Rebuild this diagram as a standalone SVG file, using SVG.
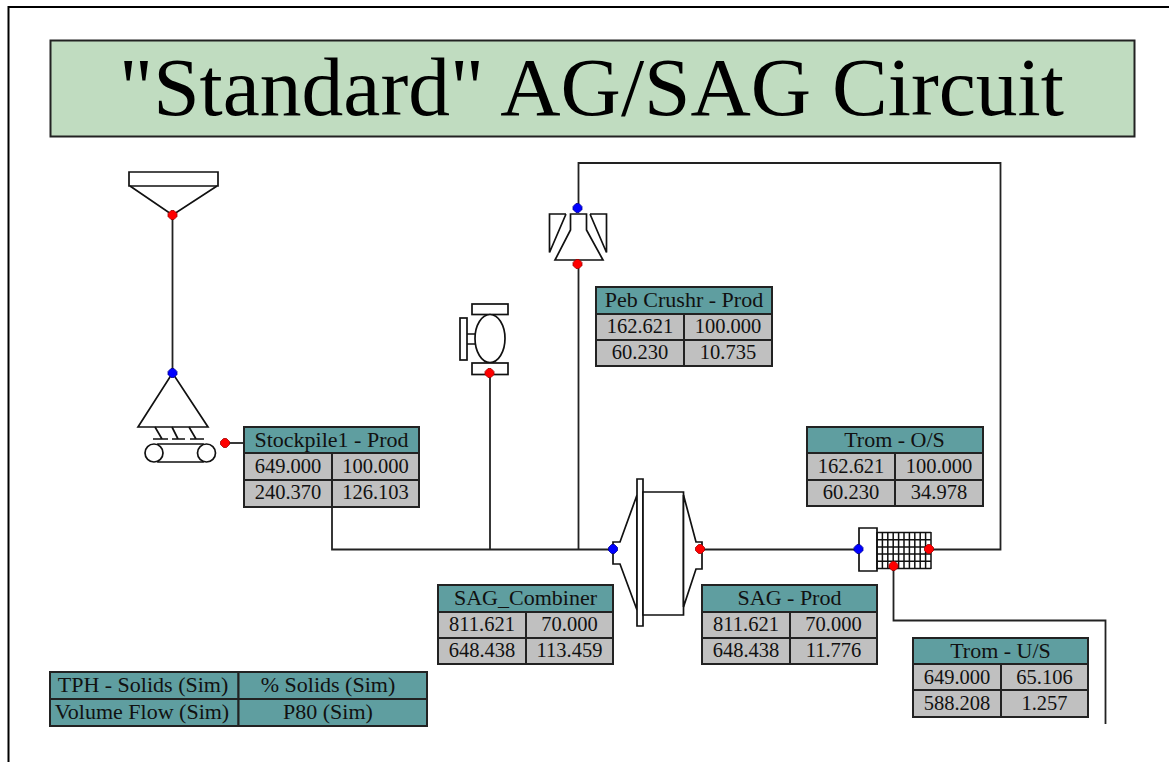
<svg xmlns="http://www.w3.org/2000/svg" width="1169" height="762" viewBox="0 0 1169 762">
<style>
.s{fill:none;stroke:#111;stroke-width:1.7}
.w{fill:#fff;stroke:#111;stroke-width:1.7}
.c{fill:none;stroke:#222;stroke-width:1.8}
.h{fill:#5f9ea0;stroke:#222;stroke-width:2}
.d{fill:#c0c0c0;stroke:#222;stroke-width:2}
.t{font-family:"Liberation Serif",serif;font-size:20.500px;fill:#111;text-anchor:middle}
.l{font-size:22px}
.r{fill:#f00;stroke:#a00000;stroke-width:.8}
.b{fill:#00f;stroke:#000090;stroke-width:.8}
</style>
<defs>
<path id="dot" d="M-1.500-4.500H1.500L4.500-1.500V1.500L1.500 4.500H-1.500L-4.500 1.500V-1.500Z"/>
</defs>
<rect width="1169" height="762" fill="#fff"/>
<path d="M8.500 762V7H1169" fill="none" stroke="#000" stroke-width="2"/>
<g id="title">
<rect x="50.500" y="40.500" width="1084" height="96" fill="#c0dcc0" stroke="#222" stroke-width="2"/>
<text x="591.500" y="115" style="font-family:'Liberation Serif',serif;font-size:83.500px;text-anchor:middle">"Standard" AG/SAG Circuit</text>
</g>
<g id="connectors" class="c">
<path d="M172.500 215V373"/>
<path d="M225 443H244"/>
<path d="M332 507V549.500H613"/>
<path d="M490 372V549"/>
<path d="M578.500 549V264"/>
<path d="M578.500 208V163H1000.500V549.500H929"/>
<path d="M700 549.500H859"/>
<path d="M893.500 566V620.500H1105.500V724"/>
</g>
<g id="feeder">
<path class="w" d="M129 172H218V186H129Z"/>
<path class="s" d="M130 186L172.500 215L217 186"/>
<use href="#dot" x="172.500" y="215" class="r"/>
</g>
<g id="stockpile">
<path class="w" d="M138 427L172.500 373L208 427Z"/>
<path class="s" d="M155 427L162 439M172 427L178 439M189 427L196 439M153 439H168M172 439H185M190 439H204"/>
<path class="w" d="M158 444H203V462H158Z"/>
<circle class="w" cx="154" cy="453" r="9"/>
<circle class="w" cx="206.500" cy="453" r="9"/>
<use href="#dot" x="172.500" y="373" class="b"/>
<use href="#dot" x="225" y="443" class="r"/>
</g>
<g id="water">
<rect class="w" x="472" y="304" width="36" height="10.500"/>
<rect class="w" x="460" y="318" width="7" height="42"/>
<path class="s" d="M467 334H476M467 344H476"/>
<ellipse class="w" cx="490" cy="338.500" rx="15" ry="24"/>
<rect class="w" x="472" y="363" width="36" height="11.500"/>
<use href="#dot" x="489.500" y="373" class="r"/>
</g>
<g id="crusher">
<path class="w" d="M570.500 214H586.500V230L603 260H555L570.500 230Z"/>
<path class="s" d="M566 214H549.500V252.500L566 214"/>
<path class="s" d="M590 214H606.500V252.500L590 214"/>
<use href="#dot" x="577.500" y="208" class="b"/>
<use href="#dot" x="577.500" y="264" class="r"/>
</g>
<g id="mill">
<path class="w" d="M637 495L620 542H613V564H620L637 610Z"/>
<path class="w" d="M637 479H643V626H637Z"/>
<path class="w" d="M643 492H683.500V615H643Z"/>
<path class="w" d="M683.500 495L696 542H702V569H696L683.500 607Z"/>
<use href="#dot" x="613" y="549" class="b"/>
<use href="#dot" x="700" y="549" class="r"/>
</g>
<g id="screen">
<path class="w" d="M859 528H877V571H859Z"/>
<path d="M877 532.500H931M877 539.700H931M877 546.900H931M877 554.100H931M877 561.300H931M877 568.500H931M877 532V569M882.400 532V569M887.800 532V569M893.200 532V569M898.600 532V569M904 532V569M909.400 532V569M914.800 532V569M920.200 532V569M925.600 532V569M931 532V569" stroke="#111" stroke-width="1.500" fill="none"/>
<use href="#dot" x="858.500" y="549" class="b"/>
<use href="#dot" x="893.500" y="566" class="r"/>
<use href="#dot" x="929" y="549" class="r"/>
</g>
<g id="tbl-stockpile">
<rect class="h" x="244" y="427" width="175" height="26"/><rect class="d" x="244" y="453" width="88" height="27"/><rect class="d" x="332" y="453" width="87" height="27"/><rect class="d" x="244" y="480" width="88" height="27"/><rect class="d" x="332" y="480" width="87" height="27"/>
<text class="t l" x="331.500" y="447">Stockpile1 - Prod</text><text class="t" x="288" y="473">649.000</text><text class="t" x="375.500" y="473">100.000</text><text class="t" x="288" y="499">240.370</text><text class="t" x="375.500" y="499">126.103</text>
</g>
<g id="tbl-pebble">
<rect class="h" x="596" y="287" width="176" height="27"/><rect class="d" x="596" y="314" width="88" height="26"/><rect class="d" x="684" y="314" width="88" height="26"/><rect class="d" x="596" y="340" width="88" height="26"/><rect class="d" x="684" y="340" width="88" height="26"/>
<text class="t l" x="684" y="307">Peb Crushr - Prod</text><text class="t" x="640" y="333">162.621</text><text class="t" x="728" y="333">100.000</text><text class="t" x="640" y="359">60.230</text><text class="t" x="728" y="359">10.735</text>
</g>
<g id="tbl-os">
<rect class="h" x="807" y="427" width="176" height="26"/><rect class="d" x="807" y="453" width="88" height="27"/><rect class="d" x="895" y="453" width="88" height="27"/><rect class="d" x="807" y="480" width="88" height="26"/><rect class="d" x="895" y="480" width="88" height="26"/>
<text class="t l" x="894.500" y="447">Trom - O/S</text><text class="t" x="851" y="473">162.621</text><text class="t" x="939" y="473">100.000</text><text class="t" x="851" y="499">60.230</text><text class="t" x="939" y="499">34.978</text>
</g>
<g id="tbl-combiner">
<rect class="h" x="438" y="585" width="175" height="27"/><rect class="d" x="438" y="612" width="88" height="26"/><rect class="d" x="526" y="612" width="87" height="26"/><rect class="d" x="438" y="638" width="88" height="26"/><rect class="d" x="526" y="638" width="87" height="26"/>
<text class="t l" x="525.500" y="605">SAG_Combiner</text><text class="t" x="482" y="631">811.621</text><text class="t" x="569.500" y="631">70.000</text><text class="t" x="482" y="657">648.438</text><text class="t" x="569.500" y="657">113.459</text>
</g>
<g id="tbl-sag">
<rect class="h" x="702" y="585" width="175" height="27"/><rect class="d" x="702" y="612" width="88" height="26"/><rect class="d" x="790" y="612" width="87" height="26"/><rect class="d" x="702" y="638" width="88" height="26"/><rect class="d" x="790" y="638" width="87" height="26"/>
<text class="t l" x="789.500" y="605">SAG - Prod</text><text class="t" x="746" y="631">811.621</text><text class="t" x="833.500" y="631">70.000</text><text class="t" x="746" y="657">648.438</text><text class="t" x="833.500" y="657">11.776</text>
</g>
<g id="tbl-us">
<rect class="h" x="913" y="638" width="175" height="26"/><rect class="d" x="913" y="664" width="88" height="26"/><rect class="d" x="1001" y="664" width="87" height="26"/><rect class="d" x="913" y="690" width="88" height="27"/><rect class="d" x="1001" y="690" width="87" height="27"/>
<text class="t l" x="1000.500" y="658">Trom - U/S</text><text class="t" x="957" y="684">649.000</text><text class="t" x="1044.500" y="684">65.106</text><text class="t" x="957" y="710">588.208</text><text class="t" x="1044.500" y="710">1.257</text>
</g>
<g id="legend">
<rect class="h" x="50" y="672" width="188.500" height="27"/><rect class="h" x="238.500" y="672" width="188.500" height="27"/><rect class="h" x="50" y="699" width="188.500" height="27"/><rect class="h" x="238.500" y="699" width="188.500" height="27"/>
<text class="t l" x="143" y="692">TPH - Solids (Sim)</text><text class="t l" x="328" y="692">% Solids (Sim)</text><text class="t l" x="142" y="719">Volume Flow (Sim)</text><text class="t l" x="328" y="719">P80 (Sim)</text>
</g>
</svg>
